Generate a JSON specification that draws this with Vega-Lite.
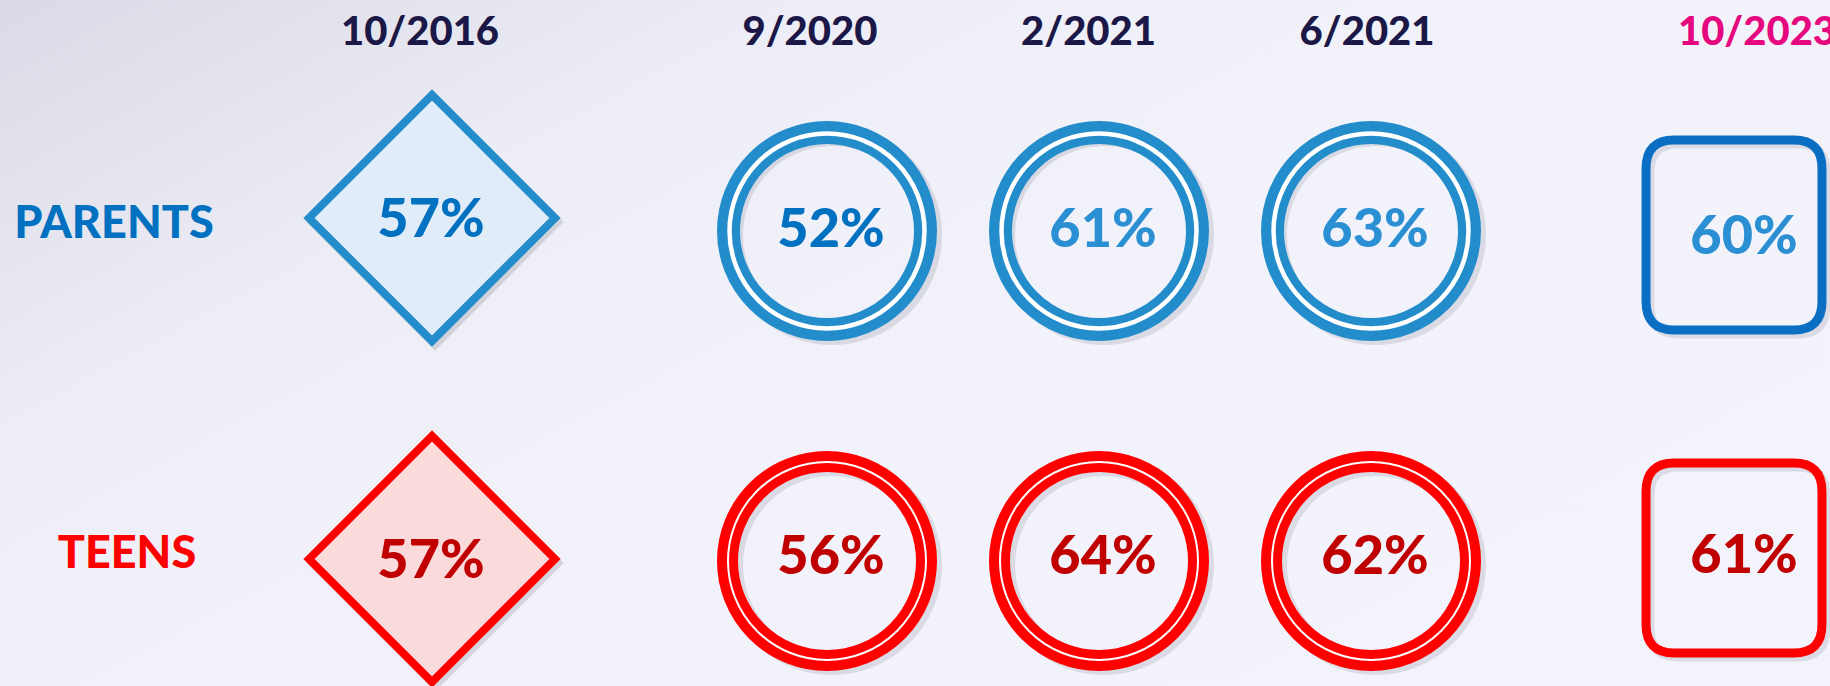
{
  "$schema": "https://vega.github.io/schema/vega-lite/v6.json",
  "width": 1830,
  "height": 686,
  "autosize": {"type": "none"},
  "padding": 0,
  "background": "#F2F3FA",
  "config": {"view": {"stroke": null}},
  "resolve": {"scale": {"x": "independent", "y": "independent"}},
  "datasets": {
    "headers": [
      {"col": "10/2016", "grp": "header", "label": "10/2016"},
      {"col": "9/2020", "grp": "header", "label": "9/2020"},
      {"col": "2/2021", "grp": "header", "label": "2/2021"},
      {"col": "6/2021", "grp": "header", "label": "6/2021"},
      {"col": "10/2023", "grp": "header", "label": "10/2023"}
    ],
    "labels": [
      {"col": "label", "grp": "PARENTS", "label": "PARENTS"},
      {"col": "label", "grp": "TEENS", "label": "TEENS"}
    ],
    "results": [
      {"col": "10/2016", "grp": "PARENTS", "shape": "diamond", "value": 0.57},
      {"col": "9/2020", "grp": "PARENTS", "shape": "circle", "value": 0.52},
      {"col": "2/2021", "grp": "PARENTS", "shape": "circle", "value": 0.61},
      {"col": "6/2021", "grp": "PARENTS", "shape": "circle", "value": 0.63},
      {"col": "10/2023", "grp": "PARENTS", "shape": "square", "value": 0.60},
      {"col": "10/2016", "grp": "TEENS", "shape": "diamond", "value": 0.57},
      {"col": "9/2020", "grp": "TEENS", "shape": "circle", "value": 0.56},
      {"col": "2/2021", "grp": "TEENS", "shape": "circle", "value": 0.64},
      {"col": "6/2021", "grp": "TEENS", "shape": "circle", "value": 0.62},
      {"col": "10/2023", "grp": "TEENS", "shape": "square", "value": 0.61}
    ]
  },
  "encoding": {
    "x": {
      "field": "col", "type": "nominal", "axis": null,
      "scale": {"type": "point", "padding": 0, "domain": ["9/2020", "2/2021", "6/2021"], "range": [827, 1371]}
    },
    "y": {
      "field": "grp", "type": "nominal", "axis": null,
      "scale": {"type": "point", "padding": 0, "domain": ["PARENTS", "TEENS"], "range": [231, 561]}
    }
  },
  "layer": [
    {
      "data": {"values": [{}]},
      "mark": {
        "type": "rect",
        "fill": {
          "gradient": "linear", "x1": 0, "y1": 0, "x2": 1, "y2": 0.7,
          "stops": [
            {"offset": 0, "color": "#DADAE6"},
            {"offset": 0.3, "color": "#ECEDF6"},
            {"offset": 0.6, "color": "#F2F3FA"},
            {"offset": 1, "color": "#F3F4FB"}
          ]
        }
      },
      "encoding": {
        "x": {"value": 0}, "x2": {"value": "width"},
        "y": {"value": 0}, "y2": {"value": "height"}
      }
    },
    {
      "data": {"name": "headers"},
      "mark": {"type": "text", "font": "Lato", "fontWeight": 900, "fontSize": 40, "align": "center", "baseline": "middle"},
      "encoding": {
        "x": {
          "field": "col", "type": "nominal", "axis": null,
          "scale": {
            "type": "point", "padding": 0,
            "domain": ["10/2016", "k1", "k2", "k3", "k4", "k5", "k6", "k7", "k8", "k9", "k10", "k11", "k12", "k13", "k14", "k15", "k16", "k17", "k18", "k19", "k20", "k21", "k22", "k23", "k24", "k25", "k26", "k27",
              "9/2020", "k29", "k30", "k31", "k32", "k33", "k34", "k35", "k36", "k37", "k38", "k39", "k40", "k41", "k42", "k43", "k44", "k45", "k46", "k47",
              "2/2021", "k49", "k50", "k51", "k52", "k53", "k54", "k55", "k56", "k57", "k58", "k59", "k60", "k61", "k62", "k63", "k64", "k65", "k66", "k67",
              "6/2021", "k69", "k70", "k71", "k72", "k73", "k74", "k75", "k76", "k77", "k78", "k79", "k80", "k81", "k82", "k83", "k84", "k85", "k86", "k87", "k88", "k89", "k90", "k91", "k92", "k93", "k94", "k95",
              "10/2023"],
            "range": [420, 1757]
          }
        },
        "y": {
          "field": "grp", "type": "nominal", "axis": null,
          "scale": {"type": "point", "padding": 0, "domain": ["header", "PARENTS"], "range": [33, 222]}
        },
        "text": {"field": "label"},
        "color": {"condition": {"test": "datum.col === '10/2023'", "value": "#E6087F"}, "value": "#1B1747"}
      }
    },
    {
      "data": {"name": "labels"},
      "mark": {"type": "text", "font": "Lato", "fontWeight": 900, "fontSize": 45, "align": "center", "baseline": "middle"},
      "encoding": {
        "x": {
          "field": "grp", "type": "nominal", "axis": null,
          "scale": {"type": "point", "padding": 0, "domain": ["PARENTS", "TEENS"], "range": [114, 127]}
        },
        "y": {
          "field": "grp", "type": "nominal", "axis": null,
          "scale": {"type": "point", "padding": 0, "domain": ["PARENTS", "TEENS"], "range": [224, 554]}
        },
        "text": {"field": "label"},
        "color": {"condition": {"test": "datum.grp === 'PARENTS'", "value": "#0070C0"}, "value": "#FF0000"}
      }
    },
    {
      "data": {"name": "results"},
      "transform": [{"filter": "datum.shape === 'diamond'"}],
      "mark": {"type": "point", "shape": "diamond", "size": 60516, "strokeWidth": 8, "filled": false, "opacity": 0.22, "color": "#6E6E80"},
      "encoding": {
        "x": {
          "field": "col", "type": "nominal", "axis": null,
          "scale": {"type": "point", "padding": 0, "domain": ["10/2016", "X"], "range": [435, 1000]}
        },
        "y": {
          "field": "grp", "type": "nominal", "axis": null,
          "scale": {"type": "point", "padding": 0, "domain": ["PARENTS", "TEENS"], "range": [222, 563]}
        }
      }
    },
    {
      "data": {"name": "results"},
      "transform": [{"filter": "datum.shape === 'diamond'"}],
      "mark": {"type": "point", "shape": "diamond", "size": 60516, "strokeWidth": 8, "filled": true, "opacity": 1},
      "encoding": {
        "x": {
          "field": "col", "type": "nominal", "axis": null,
          "scale": {"type": "point", "padding": 0, "domain": ["10/2016", "X"], "range": [432, 1000]}
        },
        "y": {
          "field": "grp", "type": "nominal", "axis": null,
          "scale": {"type": "point", "padding": 0, "domain": ["PARENTS", "TEENS"], "range": [218, 559]}
        },
        "fill": {"condition": {"test": "datum.grp === 'PARENTS'", "value": "#E0ECF8"}, "value": "#FADADB"},
        "stroke": {"condition": {"test": "datum.grp === 'PARENTS'", "value": "#238CCB"}, "value": "#FF0000"}
      }
    },
    {
      "data": {"name": "results"},
      "transform": [{"filter": "datum.shape === 'circle'"}],
      "mark": {"type": "point", "shape": "circle", "size": 39601, "strokeWidth": 21, "filled": false, "opacity": 0.18, "color": "#6E6E80"},
      "encoding": {
        "x": {
          "field": "col", "type": "nominal", "axis": null,
          "scale": {"type": "point", "padding": 0, "domain": ["9/2020", "2/2021", "6/2021"], "range": [832, 1376]}
        },
        "y": {
          "field": "grp", "type": "nominal", "axis": null,
          "scale": {"type": "point", "padding": 0, "domain": ["PARENTS", "TEENS"], "range": [235, 565]}
        }
      }
    },
    {
      "data": {"name": "results"},
      "transform": [{"filter": "datum.shape === 'circle' && datum.grp === 'PARENTS'"}],
      "mark": {"type": "point", "shape": "circle", "size": 38809, "strokeWidth": 23, "filled": false, "opacity": 1, "color": "#238CCB"}
    },
    {
      "data": {"name": "results"},
      "transform": [{"filter": "datum.shape === 'circle' && datum.grp === 'PARENTS'"}],
      "mark": {"type": "point", "shape": "circle", "size": 38025, "strokeWidth": 4.5, "filled": false, "opacity": 1, "color": "#FFFFFF"}
    },
    {
      "data": {"name": "results"},
      "transform": [{"filter": "datum.shape === 'circle' && datum.grp === 'TEENS'"}],
      "mark": {"type": "point", "shape": "circle", "size": 39601, "strokeWidth": 21, "filled": false, "opacity": 1, "color": "#FF0000"}
    },
    {
      "data": {"name": "results"},
      "transform": [{"filter": "datum.shape === 'circle' && datum.grp === 'TEENS'"}],
      "mark": {"type": "point", "shape": "circle", "size": 39204, "strokeWidth": 2, "filled": false, "opacity": 1, "color": "#FFFFFF"}
    },
    {
      "data": {"name": "results"},
      "transform": [{"filter": "datum.shape === 'square'"}],
      "mark": {
        "type": "point",
        "shape": "M -0.63 -1 L 0.63 -1 Q 0.926 -1 0.926 -0.7 L 0.926 0.7 Q 0.926 1 0.63 1 L -0.63 1 Q -0.926 1 -0.926 0.7 L -0.926 -0.7 Q -0.926 -1 -0.63 -1 Z",
        "size": 36100, "strokeWidth": 9, "filled": false, "opacity": 0.18, "color": "#6E6E80"
      },
      "encoding": {
        "x": {
          "field": "col", "type": "nominal", "axis": null,
          "scale": {"type": "point", "padding": 0, "domain": ["X", "10/2023"], "range": [1000, 1738]}
        },
        "y": {
          "field": "grp", "type": "nominal", "axis": null,
          "scale": {"type": "point", "padding": 0, "domain": ["PARENTS", "TEENS"], "range": [239, 562]}
        }
      }
    },
    {
      "data": {"name": "results"},
      "transform": [{"filter": "datum.shape === 'square'"}],
      "mark": {
        "type": "point",
        "shape": "M -0.63 -1 L 0.63 -1 Q 0.926 -1 0.926 -0.7 L 0.926 0.7 Q 0.926 1 0.63 1 L -0.63 1 Q -0.926 1 -0.926 0.7 L -0.926 -0.7 Q -0.926 -1 -0.63 -1 Z",
        "size": 36100, "strokeWidth": 9, "filled": false, "opacity": 1
      },
      "encoding": {
        "x": {
          "field": "col", "type": "nominal", "axis": null,
          "scale": {"type": "point", "padding": 0, "domain": ["X", "10/2023"], "range": [1000, 1734]}
        },
        "y": {
          "field": "grp", "type": "nominal", "axis": null,
          "scale": {"type": "point", "padding": 0, "domain": ["PARENTS", "TEENS"], "range": [235, 558]}
        },
        "stroke": {"condition": {"test": "datum.grp === 'PARENTS'", "value": "#0A6FC2"}, "value": "#FF0000"}
      }
    },
    {
      "data": {"name": "results"},
      "transform": [{"filter": "datum.shape === 'diamond'"}],
      "mark": {"type": "text", "font": "Lato", "fontWeight": 900, "fontSize": 54, "align": "center", "baseline": "middle"},
      "encoding": {
        "x": {
          "field": "col", "type": "nominal", "axis": null,
          "scale": {"type": "point", "padding": 0, "domain": ["10/2016", "X"], "range": [431, 1000]}
        },
        "y": {
          "field": "grp", "type": "nominal", "axis": null,
          "scale": {"type": "point", "padding": 0, "domain": ["PARENTS", "TEENS"], "range": [221, 562]}
        },
        "text": {"field": "value", "type": "quantitative", "format": ".0%"},
        "color": {"condition": {"test": "datum.grp === 'PARENTS'", "value": "#0070C0"}, "value": "#C00000"}
      }
    },
    {
      "data": {"name": "results"},
      "transform": [{"filter": "datum.shape === 'circle'"}],
      "mark": {"type": "text", "font": "Lato", "fontWeight": 900, "fontSize": 54, "align": "center", "baseline": "middle"},
      "encoding": {
        "x": {
          "field": "col", "type": "nominal", "axis": null,
          "scale": {"type": "point", "padding": 0, "domain": ["9/2020", "2/2021", "6/2021"], "range": [831, 1375]}
        },
        "y": {
          "field": "grp", "type": "nominal", "axis": null,
          "scale": {"type": "point", "padding": 0, "domain": ["PARENTS", "TEENS"], "range": [231, 558]}
        },
        "text": {"field": "value", "type": "quantitative", "format": ".0%"},
        "color": {
          "condition": [
            {"test": "datum.grp === 'PARENTS' && datum.col === '9/2020'", "value": "#0070C0"},
            {"test": "datum.grp === 'PARENTS'", "value": "#2B8FD3"}
          ],
          "value": "#C00000"
        }
      }
    },
    {
      "data": {"name": "results"},
      "transform": [{"filter": "datum.shape === 'square'"}],
      "mark": {"type": "text", "font": "Lato", "fontWeight": 900, "fontSize": 54, "align": "center", "baseline": "middle"},
      "encoding": {
        "x": {
          "field": "col", "type": "nominal", "axis": null,
          "scale": {"type": "point", "padding": 0, "domain": ["X", "10/2023"], "range": [1000, 1744]}
        },
        "y": {
          "field": "grp", "type": "nominal", "axis": null,
          "scale": {"type": "point", "padding": 0, "domain": ["PARENTS", "TEENS"], "range": [238, 557]}
        },
        "text": {"field": "value", "type": "quantitative", "format": ".0%"},
        "color": {"condition": {"test": "datum.grp === 'PARENTS'", "value": "#2B8FD3"}, "value": "#C00000"}
      }
    }
  ]
}
